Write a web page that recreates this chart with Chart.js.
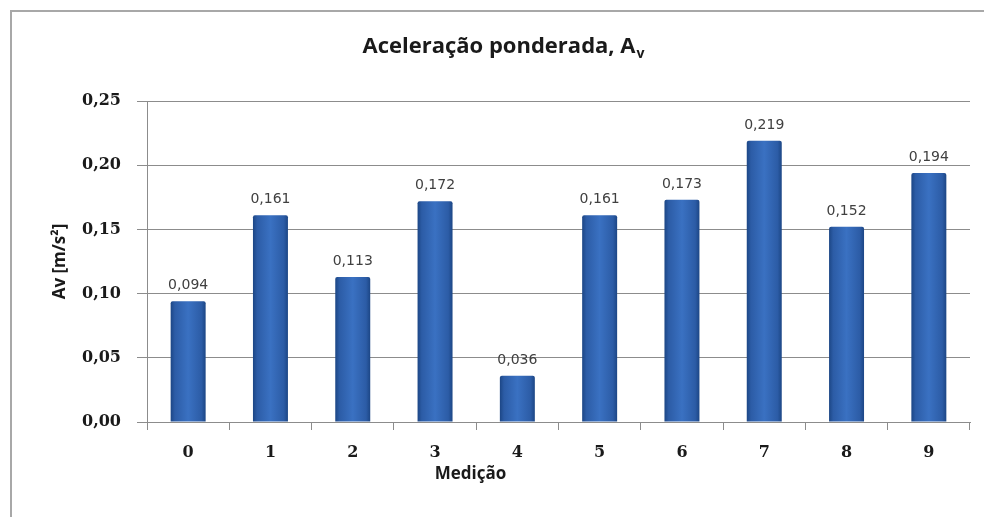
<!DOCTYPE html>
<html>
<head>
<meta charset="utf-8">
<script src="https://cdn.jsdelivr.net/npm/chart.js@4"></script>
<style>
  html, body { margin: 0; padding: 0; background: #fff; }
  #wrap { width: 984px; height: 517px; position: relative; }
</style>
</head>
<body>
<div id="wrap"><canvas id="chart"></canvas></div>
<script>
const medicoes = ['0', '1', '2', '3', '4', '5', '6', '7', '8', '9'];
const av_values = [0.094, 0.161, 0.113, 0.172, 0.036, 0.161, 0.173, 0.219, 0.152, 0.194];
const y_ticks = [0, 0.05, 0.10, 0.15, 0.20, 0.25];

const fmt = (v, d) => v.toFixed(d).replace('.', ',');

// blue bar with darker edges, like the office 3d style
function barFill(context) {
    const chart = context.chart;
    const xs = chart.scales.x;
    const plain = '#3567b3';
    if (!xs || context.dataIndex === undefined) return plain;
    const cx = xs.getPixelForValue(context.dataIndex);
    const w = (xs.width / medicoes.length) * 0.425;
    if (!isFinite(cx) || !isFinite(w) || w <= 0) return plain;
    const g = chart.ctx.createLinearGradient(cx - w / 2, 0, cx + w / 2, 0);
    g.addColorStop(0, '#1c4685');
    g.addColorStop(0.12, '#2c5ca6');
    g.addColorStop(0.5, '#3a71c2');
    g.addColorStop(0.88, '#2c5ca6');
    g.addColorStop(1, '#1c4685');
    return g;
}

// frame, title with subscript, x title and the value labels
const extras = {
    id: 'extras',
    beforeDraw(chart) {
        const c = chart.ctx;
        c.save();
        c.strokeStyle = '#a8a8a8';
        c.lineWidth = 2;
        c.strokeRect(11, 11, 1100, 700);
        c.restore();
    },
    afterDraw(chart) {
        const c = chart.ctx;
        const area = chart.chartArea;
        c.save();
        c.fillStyle = '#1a1a1a';
        c.textBaseline = 'alphabetic';
        const main = 'Aceleração ponderada, A';
        c.font = 'bold 22px "Open Sans"';
        const mw = c.measureText(main).width;
        c.font = 'bold 14px "Open Sans"';
        const sw = c.measureText('v').width;
        const x0 = 503 - (mw + sw) / 2;
        c.font = 'bold 22px "Open Sans"';
        c.fillText(main, x0, 53);
        c.font = 'bold 14px "Open Sans"';
        c.fillText('v', x0 + mw + 1, 58);

        c.font = 'bold 17px "Open Sans"';
        c.textAlign = 'center';
        c.fillText('Medição', area.left + area.width * 0.393, 479);

        const meta = chart.getDatasetMeta(0);
        c.font = '14px "DejaVu Sans"';
        c.fillStyle = '#404040';
        meta.data.forEach((bar, i) => {
            c.fillText(fmt(av_values[i], 3), bar.x, bar.y - 12);
        });
        c.restore();
    }
};

const ctx = document.querySelector('#chart');
const chart = new Chart(ctx, {
    type: 'bar',
    plugins: [extras],
    data: {
        labels: medicoes,
        datasets: [{
            data: av_values,
            backgroundColor: barFill,
            borderWidth: 0,
            borderRadius: 2,
            borderSkipped: 'bottom',
            categoryPercentage: 1.0,
            barPercentage: 0.425
        }]
    },
    options: {
        responsive: true,
        maintainAspectRatio: false,
        animation: false,
        layout: { padding: { left: 0, right: 14, top: 101, bottom: 0 } },
        plugins: {
            legend: { display: false },
            tooltip: { enabled: false },
            title: { display: false }
        },
        scales: {
            x: {
                offset: true,
                afterFit(scale) { scale.height = 95; },
                grid: {
                    offset: true,
                    drawOnChartArea: false,
                    drawTicks: true,
                    tickLength: 8,
                    color: '#8c8c8c'
                },
                border: { color: '#8c8c8c', width: 1 },
                ticks: {
                    color: '#1a1a1a',
                    padding: 13,
                    font: { family: '"DejaVu Serif"', weight: 'bold', size: 16 }
                }
            },
            y: {
                min: 0,
                max: 0.25,
                afterFit(scale) { scale.width = 147; },
                afterBuildTicks(scale) {
                    scale.ticks = y_ticks.map(v => ({ value: v }));
                },
                grid: {
                    color: '#8c8c8c',
                    tickLength: 10,
                    drawTicks: true
                },
                border: { color: '#8c8c8c', width: 1 },
                ticks: {
                    color: '#1a1a1a',
                    padding: 16,
                    font: { family: '"DejaVu Serif"', weight: 'bold', size: 16 },
                    callback: v => fmt(v, 2)
                },
                title: {
                    display: true,
                    text: 'Av [m/s²]',
                    color: '#1a1a1a',
                    font: { family: '"Open Sans"', weight: 'bold', size: 17 },
                    padding: { top: 50, bottom: 0 }
                }
            }
        }
    }
});
</script>
</body>
</html>
